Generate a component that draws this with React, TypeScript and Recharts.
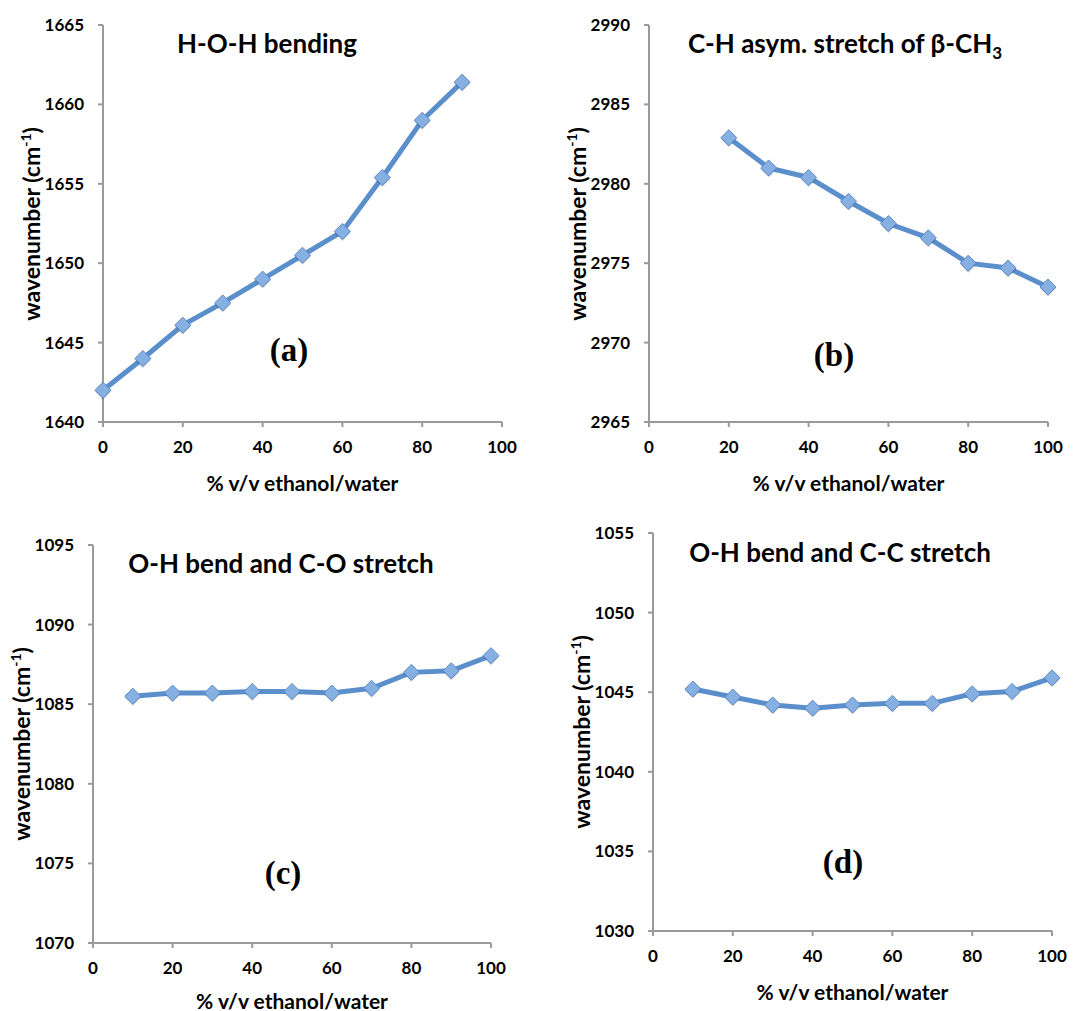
import React from 'react'
import { LineChart, Line, XAxis, YAxis } from 'recharts'

// ethanol content, % v/v
const xTicks = [0, 20, 40, 60, 80, 100]

const xA = [0, 10, 20, 30, 40, 50, 60, 70, 80, 90]
const hohBending = [1642, 1644, 1646.1, 1647.5, 1649, 1650.5, 1652, 1655.4, 1659, 1661.4]
const yTicksA = [1640, 1645, 1650, 1655, 1660, 1665]

const xB = [20, 30, 40, 50, 60, 70, 80, 90, 100]
const chAsym = [2982.9, 2981, 2980.4, 2978.9, 2977.5, 2976.6, 2975, 2974.7, 2973.5]
const yTicksB = [2965, 2970, 2975, 2980, 2985, 2990]

const xC = [10, 20, 30, 40, 50, 60, 70, 80, 90, 100]
const ohBendCO = [1085.5, 1085.7, 1085.7, 1085.8, 1085.8, 1085.7, 1086, 1087, 1087.1, 1088.05]
const yTicksC = [1070, 1075, 1080, 1085, 1090, 1095]

const xD = [10, 20, 30, 40, 50, 60, 70, 80, 90, 100]
const ohBendCC = [1045.2, 1044.7, 1044.2, 1044, 1044.2, 1044.3, 1044.3, 1044.9, 1045.05, 1045.9]
const yTicksD = [1030, 1035, 1040, 1045, 1050, 1055]

const SANS = 'Lato, "Open Sans", sans-serif'
const SERIF = '"Liberation Serif", "DejaVu Serif", serif'
const AXIS = '#9a9a9a'
const LINE = '#5b8fcc'

const Diamond = (props: any) => {
  const { cx, cy } = props
  if (cx == null || cy == null) return null
  const r = 8
  return (
    <g>
      <polygon
        points={`${cx},${cy - r + 1.5} ${cx + r},${cy + 1.5} ${cx},${cy + r + 1.5} ${cx - r},${cy + 1.5}`}
        fill="rgba(0,0,0,0.18)"
      />
      <polygon
        points={`${cx},${cy - r} ${cx + r},${cy} ${cx},${cy + r} ${cx - r},${cy}`}
        fill="#86afe2"
        stroke="#5a8bc8"
        strokeWidth={1}
      />
    </g>
  )
}

interface PanelProps {
  left: number
  top: number
  plotLeft: number
  plotRight: number
  plotTop: number
  plotBottom: number
  xs: number[]
  ys: number[]
  yTicks: number[]
  title: React.ReactNode
  titleX: number
  titleY: number
  tag: string
  tagX: number
  tagY: number
  xLabelY: number
}

function Panel(p: PanelProps) {
  const width = 546
  const height = 520
  const data = p.xs.map((x, i) => ({ x, y: p.ys[i] }))
  const tick = { fill: '#000', fontSize: 17, fontWeight: 700, fontFamily: SANS }
  const plotCx = (p.plotLeft + p.plotRight) / 2
  const plotCy = (p.plotTop + p.plotBottom) / 2
  return (
    <div style={{ position: 'absolute', left: p.left, top: p.top, width, height }}>
      <LineChart
        width={width}
        height={height}
        data={data}
        margin={{ top: p.plotTop, left: 0, right: width - p.plotRight, bottom: 0 }}
      >
        <XAxis
          type="number"
          dataKey="x"
          domain={[0, 100]}
          ticks={xTicks}
          height={height - p.plotBottom}
          axisLine={{ stroke: AXIS, strokeWidth: 2 }}
          tickLine={{ stroke: AXIS, strokeWidth: 2 }}
          tickSize={5}
          tickMargin={14}
          tick={tick}
        />
        <YAxis
          type="number"
          domain={[p.yTicks[0], p.yTicks[p.yTicks.length - 1]]}
          ticks={p.yTicks}
          width={p.plotLeft}
          axisLine={{ stroke: AXIS, strokeWidth: 2 }}
          tickLine={{ stroke: AXIS, strokeWidth: 2 }}
          tickSize={5}
          tickMargin={14}
          tick={tick}
        />
        <Line
          dataKey="y"
          stroke={LINE}
          strokeWidth={5}
          dot={<Diamond />}
          activeDot={false}
          isAnimationActive={false}
        />
      </LineChart>
      <div style={{ position: 'absolute', left: p.titleX - p.left, top: p.titleY - p.top, transform: 'translate(-50%,-50%)', whiteSpace: 'nowrap', fontFamily: SANS, fontWeight: 700, fontSize: 26 }}>
        {p.title}
      </div>
      <div style={{ position: 'absolute', left: p.tagX - p.left, top: p.tagY - p.top, transform: 'translate(-50%,-50%)', fontFamily: SERIF, fontWeight: 700, fontSize: 33 }}>
        {p.tag}
      </div>
      <div style={{ position: 'absolute', left: plotCx, top: p.xLabelY - p.top, transform: 'translate(-50%,-50%)', whiteSpace: 'nowrap', fontFamily: SANS, fontWeight: 700, fontSize: 21 }}>
        % v/v ethanol/water
      </div>
      <div style={{ position: 'absolute', left: p.plotLeft - 72, top: plotCy, transform: 'translate(-50%,-50%) rotate(-90deg)', whiteSpace: 'nowrap', fontFamily: SANS, fontWeight: 700, fontSize: 23 }}>
        wavenumber (cm<sup style={{ fontSize: 14 }}>-1</sup>)
      </div>
    </div>
  )
}

export default function App() {
  return (
    <div style={{ position: 'absolute', left: 0, top: 0, width: 1092, height: 1011, background: '#fff', overflow: 'hidden' }}>
      <Panel
        left={0} top={0}
        plotLeft={103} plotRight={502} plotTop={25} plotBottom={422}
        xs={xA} ys={hohBending} yTicks={yTicksA}
        title="H-O-H bending" titleX={267} titleY={43}
        tag="(a)" tagX={289} tagY={350}
        xLabelY={482}
      />
      <Panel
        left={546} top={0}
        plotLeft={103} plotRight={502} plotTop={25} plotBottom={422}
        xs={xB} ys={chAsym} yTicks={yTicksB}
        title={<span>C-H asym. stretch of β-CH<sub style={{ fontSize: 17 }}>3</sub></span>} titleX={845} titleY={45}
        tag="(b)" tagX={834} tagY={355}
        xLabelY={482}
      />
      <Panel
        left={0} top={520}
        plotLeft={93} plotRight={491} plotTop={25} plotBottom={423}
        xs={xC} ys={ohBendCO} yTicks={yTicksC}
        title="O-H bend and C-O stretch" titleX={281} titleY={563}
        tag="(c)" tagX={283} tagY={873}
        xLabelY={1000}
      />
      <Panel
        left={546} top={520}
        plotLeft={107} plotRight={506} plotTop={13} plotBottom={411}
        xs={xD} ys={ohBendCC} yTicks={yTicksD}
        title="O-H bend and C-C stretch" titleX={840} titleY={552}
        tag="(d)" tagX={843} tagY={862}
        xLabelY={991}
      />
    </div>
  )
}
